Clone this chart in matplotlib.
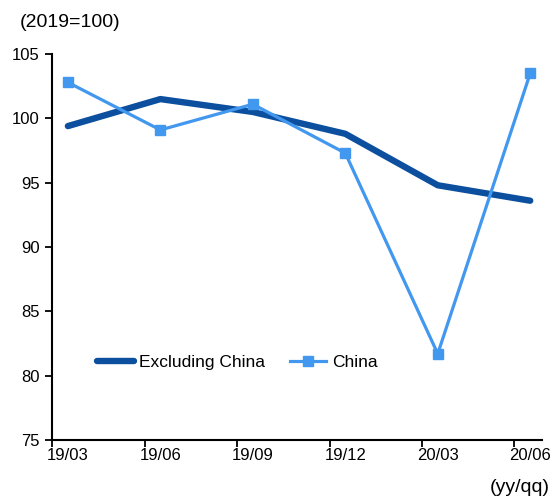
import matplotlib
matplotlib.use("Agg")
import matplotlib.pyplot as plt
import numpy as np

plt.rcParams['font.family'] = ['Liberation Sans', 'DejaVu Sans']

quarters = ["19/03", "19/06", "19/09", "19/12", "20/03", "20/06"]
excl_china = [99.4, 101.5, 100.5, 98.8, 94.8, 93.6]
china = [102.8, 99.1, 101.1, 97.3, 81.7, 103.5]

DARK = '#0b4f9e'
LIGHT = '#4297ef'

fig = plt.figure(figsize=(5.55, 4.96), dpi=100)
ax = fig.add_axes([0.094, 0.113, 0.883, 0.778])

x = np.arange(len(quarters))
ax.plot(x, excl_china, color=DARK, lw=4.6, solid_capstyle='round',
        solid_joinstyle='round', label='Excluding China')
ax.plot(x, china, color=LIGHT, lw=2.3, marker='s', markersize=6.5,
        label='China')

# axis limits / ticks (Excel style: tick marks offset from labels)
ax.set_xlim(-0.17, 5.13)
ax.set_ylim(75, 105)
ax.set_yticks(range(75, 106, 5))
ax.set_xticks(x, quarters)
ax.tick_params(axis='x', length=0, pad=6, labelsize=12)
ax.set_xticks(x - 0.17, minor=True)
ax.tick_params(axis='x', which='minor', length=5, width=1.3, direction='out')
ax.tick_params(axis='y', length=5, width=1.3, direction='out', labelsize=12, pad=4)

for s in ['top', 'right']:
    ax.spines[s].set_visible(False)
for s in ['left', 'bottom']:
    ax.spines[s].set_linewidth(1.5)

ax.legend(loc='center left', bbox_to_anchor=(0.06, 0.2), ncol=2, frameon=False,
          fontsize=12.5, handlelength=2.1, columnspacing=1.45, handletextpad=0.3)

fig.text(0.036, 0.955, "(2019=100)", fontsize=14, va='center', ha='left')
fig.text(0.99, 0.017, "(yy/qq)", fontsize=14, va='center', ha='right')

plt.savefig("out.png")
plt.close(fig)
